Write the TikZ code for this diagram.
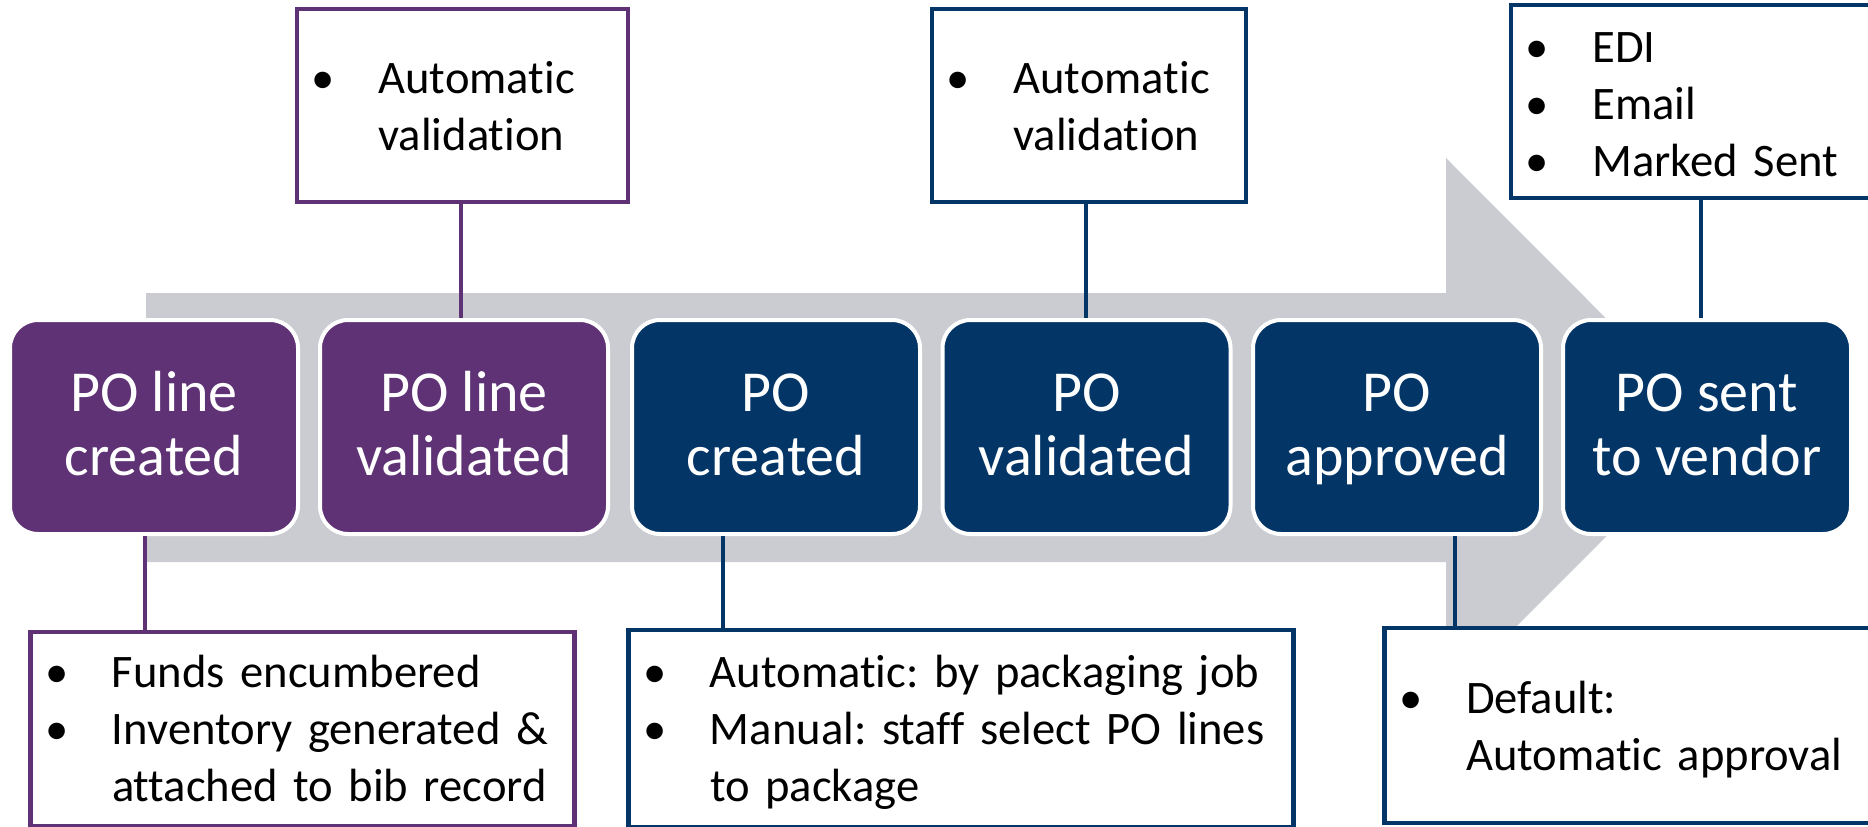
\documentclass[tikz,border=0pt]{standalone}
\usepackage{fontspec}
\setmainfont{Carlito}[Ligatures=NoCommon]
\frenchspacing

\definecolor{poPurple}{RGB}{94,50,116}
\definecolor{poBlue}{RGB}{3,53,103}
\definecolor{flowGray}{RGB}{203,204,209}

% two-line caption of a stage box, with fixed line height and depth
\newcommand\stagetext[2]{\rule{0pt}{23pt}#1\\#2\rule[-7pt]{0pt}{0pt}}
% bullet at the start of a note line, and the indent of a wrapped line
\newcommand\bitem{\hspace*{13.25pt}\makebox[0pt]{•}\hspace*{27.5pt}}
\newcommand\cont{\hspace*{40.75pt}}
\newcommand\firstline[1]{\rule{0pt}{#1}}
\newcommand\lastline[1]{\rule[-#1]{0pt}{0pt}}

\begin{document}
\begin{tikzpicture}[x=0.5pt,y=-0.5pt,
  stage/.style={rectangle, rounded corners=14pt, draw=white, line width=2pt,
    minimum width=144pt, minimum height=107pt, inner sep=0pt, outer sep=0pt,
    text=white, align=center, font=\fontsize{29}{32}\selectfont},
  purplestage/.style={stage, fill=poPurple},
  bluestage/.style={stage, fill=poBlue},
  note/.style={rectangle, draw, line width=2.25pt, fill=white, inner sep=0pt,
    outer sep=0pt, align=left, anchor=north west, text=black,
    font=\fontsize{23.3}{28.5}\selectfont},
  purplenote/.style={note, draw=poPurple},
  bluenote/.style={note, draw=poBlue},
  link/.style={line width=2.25pt}]

\useasboundingbox (0,0) rectangle (1868,826);
\clip (0,0) rectangle (1868,826);

% wide gray process arrow behind the stages
\fill[flowGray] (146,293) -- (1446,293) -- (1446,158) -- (1715,427.5)
  -- (1446,697) -- (1446,562) -- (146,562) -- cycle;

% x positions of the connectors
\coordinate (xd) at (145,0);
\coordinate (xa) at (461,0);
\coordinate (xe) at (723,0);
\coordinate (xb) at (1086,0);
\coordinate (xf) at (1455,0);
\coordinate (xc) at (1701,0);

% notes
\node[purplenote, text width=165.5pt] (ta) at (297,9)
  {\firstline{42pt}\bitem Automatic\\\cont validation\lastline{26pt}};
\node[bluenote, text width=157pt] (tb) at (932,9)
  {\firstline{42pt}\bitem Automatic\\\cont validation\lastline{26pt}};
\node[bluenote, text width=184.5pt] (tc) at (1511,5)
  {\firstline{28.5pt}\bitem EDI\\\bitem Email\\\bitem Marked Sent\lastline{11pt}};
\node[purplenote, text width=272pt] (td) at (30.5,632)
  {\firstline{27.5pt}\bitem Funds encumbered\\\bitem Inventory generated \&\\\cont attached to bib record\lastline{12.5pt}};
\node[bluenote, text width=332.5pt] (te) at (628.5,630)
  {\firstline{28.5pt}\bitem Automatic: by packaging job\\\bitem Manual: staff select PO lines\\\cont to package\lastline{13pt}};
\node[bluenote, text width=247.75pt] (tf) at (1384.5,628)
  {\firstline{42.5pt}\bitem Default:\\\cont Automatic approval\lastline{26.5pt}};

% stages
\node[purplestage] (s1) at (154,427)    {\stagetext{PO line}{created}};
\node[purplestage] (s2) at (464,427)    {\stagetext{PO line}{validated}};
\node[bluestage]   (s3) at (776,427)    {\stagetext{PO}{created}};
\node[bluestage]   (s4) at (1086.5,427) {\stagetext{PO}{validated}};
\node[bluestage]   (s5) at (1397,427)   {\stagetext{PO}{approved}};
\node[bluestage]   (s6) at (1707,427)   {\stagetext{PO sent}{to vendor}};

% connectors from stages to their notes, ending at the white rim
\draw[link, poPurple] (ta.south -| xa) -- ([yshift=1pt]s2.north -| xa);
\draw[link, poBlue]   (tb.south -| xb) -- ([yshift=1pt]s4.north -| xb);
\draw[link, poBlue]   (tc.south -| xc) -- ([yshift=1pt]s6.north -| xc);
\draw[link, poPurple] ([yshift=-1pt]s1.south -| xd) -- (td.north -| xd);
\draw[link, poBlue]   ([yshift=-1pt]s3.south -| xe) -- (te.north -| xe);
\draw[link, poBlue]   ([yshift=-1pt]s5.south -| xf) -- (tf.north -| xf);
\end{tikzpicture}
\end{document}
